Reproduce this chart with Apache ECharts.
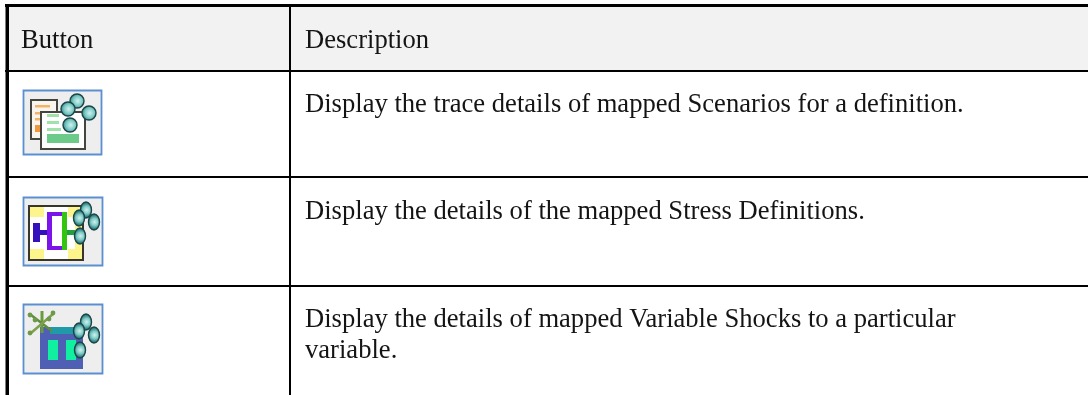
<!DOCTYPE html>
<html>
<head>
<meta charset="utf-8">
<style>html,body{margin:0;padding:0;background:#fff}#main{width:1088px;height:395px}</style>
<script src="https://cdn.jsdelivr.net/npm/echarts@6/dist/echarts.min.js"></script>
</head>
<body>
<div id="main"></div>
<script>
var headers = ['Button', 'Description'];
var descriptions = [
	['Display the trace details of mapped Scenarios for a definition.'],
	['Display the details of the mapped Stress Definitions.'],
	['Display the details of mapped Variable Shocks to a particular', 'variable.']
];

var FONT = '"Liberation Serif", "Times New Roman", serif';
var ASCENT = 20; // text is placed from its top, y below is the baseline
var els = [];

function rect(x, y, w, h, fill, extra) {
	var r = { type: 'rect', shape: { x: x, y: y, width: w, height: h }, style: { fill: fill } };
	if (extra) {
		r.style.stroke = extra.stroke;
		r.style.lineWidth = extra.lineWidth;
	}
	return r;
}
function text(x, y, str) {
	return {
		type: 'text', x: x, y: y - ASCENT,
		style: { text: str, font: '26.6px ' + FONT, fill: '#141414', shadowBlur: 1, shadowColor: 'rgba(0,0,0,0.35)' }
	};
}
function ball(cx, cy, rx, ry) {
	return {
		type: 'ellipse', shape: { cx: cx, cy: cy, rx: rx, ry: ry },
		style: {
			fill: new echarts.graphic.RadialGradient(0.55, 0.5, 0.6, [
				{ offset: 0, color: '#d4f0ee' }, { offset: 0.5, color: '#7ccbc6' }, { offset: 1, color: '#1f6d70' }
			]),
			stroke: '#1b4547', lineWidth: 1.4
		}
	};
}
function line(pts, color, width) {
	return { type: 'polyline', shape: { points: pts }, style: { stroke: color, lineWidth: width, fill: null } };
}
function dot(cx, cy) {
	return { type: 'circle', shape: { cx: cx, cy: cy, r: 2.4 }, style: { fill: '#6c9a48' } };
}
function iconFrame(x, y, w, h) {
	return rect(x + 0.5, y + 0.5, w, h, '#eeeeee', { stroke: '#5b8fcf', lineWidth: 1.8 });
}

// header background and cell text
els.push(rect(8, 7, 1080, 63, '#f2f2f2'));
els.push(text(21, 48, headers[0]));
els.push(text(305, 48, headers[1]));

var rowTextY = [112, 219, 327];
descriptions.forEach(function (lines, i) {
	lines.forEach(function (l, j) {
		els.push(text(305, rowTextY[i] + j * 31, l));
	});
});

// icon 1: documents and balls
els.push(iconFrame(23, 90, 78, 64));
els.push(rect(31, 100, 26, 39, '#f8f5ee', { stroke: '#45453f', lineWidth: 2 }));
els.push(rect(35, 105, 15, 2.5, '#f6b266'), rect(35, 112, 6, 2.5, '#f6b266'), rect(35, 118, 5, 2.5, '#f6b266'), rect(35, 125, 5, 7, '#ef973a'));
els.push(rect(41, 112, 44, 37, '#ffffff', { stroke: '#45453f', lineWidth: 2 }));
els.push(rect(47, 114, 12, 3, '#9fe3aa'), rect(47, 121, 12, 3, '#9fe3aa'), rect(47, 128, 14, 3, '#9fe3aa'), rect(47, 134, 32, 9, '#6ccb88'));
els.push(ball(77, 101, 7, 7), ball(68, 109, 7, 7), ball(89, 113, 7, 7), ball(70, 125, 7, 7));

// icon 2: yellow stress definition
els.push(iconFrame(23, 197, 79, 68));
els.push(rect(29, 206, 54, 54, '#fdf48b', { stroke: '#36362c', lineWidth: 2 }));
els.push(rect(44, 207, 24, 52, '#ffffff'), rect(30, 217, 45, 32, '#ffffff'));
els.push(rect(33, 223, 7, 19, '#3510bd'), rect(40, 230, 7, 5, '#3510bd'));
els.push(rect(47, 212, 15, 4, '#7a14e8'), rect(47, 246, 15, 4, '#7a14e8'), rect(47, 212, 5, 38, '#7a14e8'));
els.push(rect(62, 212, 5, 38, '#33c410'), rect(67, 230, 8, 5, '#22a040'));
els.push(ball(86, 210, 5.5, 8), ball(79, 218, 5.5, 8), ball(94, 222, 5.5, 8), ball(80, 236, 5.5, 8));

// icon 3: variable shock
els.push(iconFrame(23, 304, 79, 69));
els.push(rect(40, 327, 43, 42, '#4f60b4'));
els.push(rect(50, 327, 33, 7, '#1f9aa8'));
els.push(rect(48, 340, 10, 20, '#10f0a0'), rect(66, 340, 10, 20, '#10f0a0'));
els.push(line([[42, 311], [42, 333]], '#6a9a3c', 3), line([[31, 315], [52, 331]], '#5f8f3a', 2.5), line([[53, 314], [31, 333]], '#7da050', 2.5));
els.push(dot(30, 315), dot(53, 313), dot(30, 333), dot(35, 320), dot(49, 319));
els.push(ball(86, 322, 5.5, 8), ball(79, 331, 5.5, 8), ball(94, 335, 5.5, 8), ball(80, 350, 5.5, 8));

// table rules
els.push(rect(5, 4, 1083, 3, '#000'));
els.push(rect(5, 70, 1083, 2, '#000'));
els.push(rect(8, 176, 1080, 2, '#000'));
els.push(rect(8, 285, 1080, 2, '#000'));
els.push(rect(5.5, 4, 3.5, 391, '#000'));
els.push(rect(289, 4, 2, 391, '#000'));

var chart = echarts.init(document.getElementById('main'), null, { renderer: 'canvas' });
chart.setOption({ animation: false, backgroundColor: '#fff', graphic: { elements: els } });
</script>
</body>
</html>
